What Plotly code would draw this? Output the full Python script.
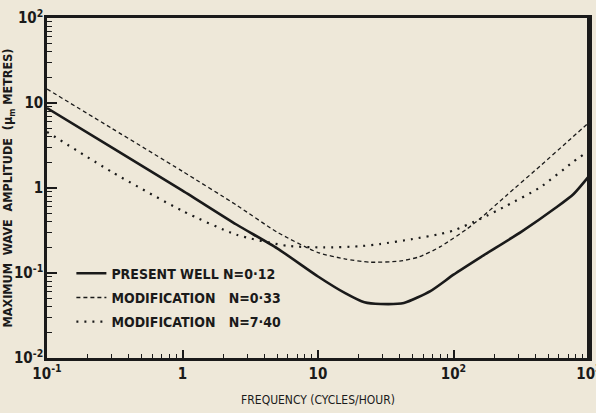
import plotly.graph_objects as go

# Frequency (cycles/hour) and maximum wave amplitude (micrometres)
freq_present = [0.1, 0.3, 1, 2.5, 5, 10, 16, 22, 29, 43, 68, 100, 160, 320, 575, 770, 1000]
amp_present = [8.71, 3.0, 0.933, 0.372, 0.195, 0.091, 0.0575, 0.0452, 0.0432, 0.0444, 0.0617, 0.0955, 0.155, 0.309, 0.593, 0.851, 1.38]

freq_mod1 = [0.1, 0.3, 1, 2.5, 5, 10, 16, 24, 40, 56, 80, 126, 160, 245, 437, 700, 1000]
amp_mod1 = [14.6, 5.04, 1.57, 0.63, 0.302, 0.174, 0.146, 0.134, 0.138, 0.155, 0.204, 0.331, 0.447, 0.813, 1.82, 3.55, 5.9]

freq_mod2 = [0.1, 0.3, 1, 2.5, 5.9, 11, 20, 28.6, 50, 80, 100, 157, 245, 437, 767, 1000]
amp_mod2 = [4.57, 1.55, 0.537, 0.282, 0.209, 0.2, 0.206, 0.219, 0.251, 0.288, 0.316, 0.431, 0.617, 1.02, 2.04, 2.75]

labels = ["PRESENT WELL N=0·12",
          "MODIFICATION\u00a0\u00a0 N=0·33",
          "MODIFICATION\u00a0\u00a0 N=7·40"]

x_tickvals = [0.1, 1, 10, 100, 1000]
x_ticktext = ["10<sup>-1</sup>", "1", "10", "10<sup>2</sup>", "10<sup>3</sup>"]
y_tickvals = [0.01, 0.1, 1, 10, 100]
y_ticktext = ["10<sup>-2</sup>", "10<sup>-1</sup>", "1", "10", "10<sup>2</sup>"]

minor_x = [m * d for d in [0.1, 1, 10, 100] for m in range(2, 10)]
minor_y = [m * d for d in [0.01, 0.1, 1, 10] for m in range(2, 10)]

ink = "#1a1a1a"
paper = "#eee8d9"
narrow = "Liberation Sans Narrow, DejaVu Sans Condensed, Arial Narrow, Liberation Sans, sans-serif"

fig = go.Figure()
fig.add_trace(go.Scatter(x=freq_present, y=amp_present, mode="lines", name=labels[0], legendgroup="a",
                         line=dict(color=ink, width=2.6, shape="spline", smoothing=0.6)))
fig.add_trace(go.Scatter(x=freq_mod1, y=amp_mod1, mode="lines", name=labels[1], legendgroup="b",
                         line=dict(color=ink, width=1.3, dash="4px,3px", shape="spline", smoothing=0.6)))
fig.add_trace(go.Scatter(x=freq_mod2, y=amp_mod2, mode="lines", name=labels[2], legendgroup="c",
                         line=dict(color=ink, width=2.2, dash="2px,6px", shape="spline", smoothing=0.6)))

fig.update_layout(
    width=596, height=413,
    margin=dict(l=47, r=7, t=18, b=55, autoexpand=False),
    paper_bgcolor=paper, plot_bgcolor=paper,
    font=dict(family=narrow, color=ink),
    showlegend=True,
    legend=dict(x=0.045, y=0.295, xanchor="left", yanchor="top",
                bgcolor="rgba(0,0,0,0)", font=dict(size=14, family=narrow, weight="bold"),
                tracegroupgap=3, itemwidth=30),
    xaxis=dict(type="log", range=[-1, 3], tickmode="array", tickvals=x_tickvals, ticktext=x_ticktext,
               ticks="inside", ticklen=8, tickwidth=1.5, tickcolor=ink, ticklabeloverflow="allow",
               automargin=False,
               minor=dict(tickvals=minor_x, ticks="inside", ticklen=4, tickwidth=1.2, tickcolor=ink),
               showgrid=False, zeroline=False, showline=True, linewidth=2.5, linecolor=ink, mirror=True,
               tickfont=dict(size=15, family=narrow, weight="bold"),
               title=dict(text="FREQUENCY (CYCLES/HOUR)", font=dict(size=12, family=narrow), standoff=14)),
    yaxis=dict(type="log", range=[-2, 2], tickmode="array", tickvals=y_tickvals, ticktext=y_ticktext,
               ticks="inside", ticklen=10, tickwidth=1.5, tickcolor=ink, automargin=False,
               ticklabelstandoff=-2,
               minor=dict(tickvals=minor_y, ticks="inside", ticklen=5, tickwidth=1.2, tickcolor=ink),
               showgrid=False, zeroline=False, showline=True, linewidth=2.5, linecolor=ink, mirror=True,
               tickfont=dict(size=15, family=narrow, weight="bold"),
               title=dict(text="MAXIMUM  WAVE  AMPLITUDE  (μ<sub>m</sub> METRES)",
                          font=dict(size=12.5, family=narrow, weight="bold"), standoff=2)),
)
# heavier right-hand frame edge
fig.add_shape(type="line", xref="paper", yref="paper", x0=1, x1=1, y0=0, y1=1,
              line=dict(color=ink, width=4))

fig.write_html("out.html")
